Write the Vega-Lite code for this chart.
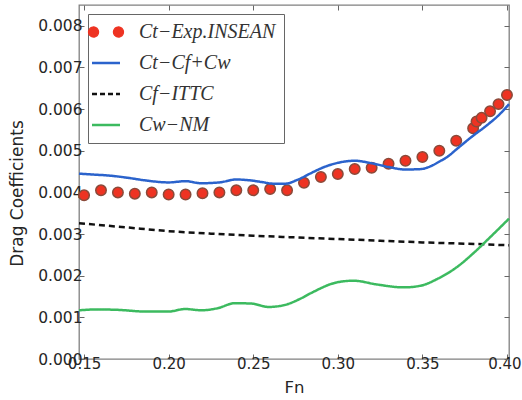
{
  "$schema": "https://vega.github.io/schema/vega-lite/v6.json",
  "width": 430,
  "height": 354,
  "autosize": {"type": "none"},
  "padding": {"left": 79, "top": 5, "right": 13, "bottom": 41},
  "background": "white",
  "config": {
    "view": {"stroke": "#808080", "strokeWidth": 1.3},
    "axis": {
      "grid": false,
      "domain": false,
      "tickSize": -5,
      "tickColor": "#666666",
      "tickWidth": 1,
      "labelFont": "DejaVu Sans",
      "labelFontSize": 15,
      "labelColor": "#262626",
      "titleFont": "DejaVu Sans",
      "titleFontSize": 16.5,
      "titleFontWeight": "normal",
      "titleColor": "#262626"
    },
    "legend": {
      "orient": "top-left",
      "offset": 9,
      "padding": 8,
      "strokeColor": "#666666",
      "fillColor": "white",
      "cornerRadius": 0,
      "labelFont": "Liberation Serif",
      "labelFontStyle": "italic",
      "labelFontSize": 20,
      "labelColor": "#333333",
      "labelOffset": 23,
      "symbolSize": 784,
      "rowPadding": 11,
      "title": null
    }
  },
  "data": {
    "values": [
      {"series": "Exp", "Fn": 0.150, "C": 0.00393},
      {"series": "Exp", "Fn": 0.160, "C": 0.00405},
      {"series": "Exp", "Fn": 0.170, "C": 0.00400},
      {"series": "Exp", "Fn": 0.180, "C": 0.00397},
      {"series": "Exp", "Fn": 0.190, "C": 0.00400},
      {"series": "Exp", "Fn": 0.200, "C": 0.00395},
      {"series": "Exp", "Fn": 0.210, "C": 0.00395},
      {"series": "Exp", "Fn": 0.220, "C": 0.00398},
      {"series": "Exp", "Fn": 0.230, "C": 0.00400},
      {"series": "Exp", "Fn": 0.240, "C": 0.00405},
      {"series": "Exp", "Fn": 0.250, "C": 0.00405},
      {"series": "Exp", "Fn": 0.260, "C": 0.00408},
      {"series": "Exp", "Fn": 0.270, "C": 0.00405},
      {"series": "Exp", "Fn": 0.280, "C": 0.00423},
      {"series": "Exp", "Fn": 0.290, "C": 0.00437},
      {"series": "Exp", "Fn": 0.300, "C": 0.00444},
      {"series": "Exp", "Fn": 0.310, "C": 0.00456},
      {"series": "Exp", "Fn": 0.320, "C": 0.00459},
      {"series": "Exp", "Fn": 0.330, "C": 0.00469},
      {"series": "Exp", "Fn": 0.340, "C": 0.00476},
      {"series": "Exp", "Fn": 0.350, "C": 0.00485},
      {"series": "Exp", "Fn": 0.360, "C": 0.00500},
      {"series": "Exp", "Fn": 0.370, "C": 0.00524},
      {"series": "Exp", "Fn": 0.380, "C": 0.00554},
      {"series": "Exp", "Fn": 0.382, "C": 0.00570},
      {"series": "Exp", "Fn": 0.385, "C": 0.00579},
      {"series": "Exp", "Fn": 0.390, "C": 0.00595},
      {"series": "Exp", "Fn": 0.395, "C": 0.00612},
      {"series": "Exp", "Fn": 0.400, "C": 0.00634},

      {"series": "Ct", "Fn": 0.147, "C": 0.00445},
      {"series": "Ct", "Fn": 0.155, "C": 0.00443},
      {"series": "Ct", "Fn": 0.166, "C": 0.00440},
      {"series": "Ct", "Fn": 0.176, "C": 0.00435},
      {"series": "Ct", "Fn": 0.186, "C": 0.00429},
      {"series": "Ct", "Fn": 0.200, "C": 0.00424},
      {"series": "Ct", "Fn": 0.210, "C": 0.00427},
      {"series": "Ct", "Fn": 0.219, "C": 0.00422},
      {"series": "Ct", "Fn": 0.230, "C": 0.00424},
      {"series": "Ct", "Fn": 0.240, "C": 0.00431},
      {"series": "Ct", "Fn": 0.248, "C": 0.00429},
      {"series": "Ct", "Fn": 0.255, "C": 0.00425},
      {"series": "Ct", "Fn": 0.262, "C": 0.00421},
      {"series": "Ct", "Fn": 0.269, "C": 0.00421},
      {"series": "Ct", "Fn": 0.276, "C": 0.00430},
      {"series": "Ct", "Fn": 0.284, "C": 0.00446},
      {"series": "Ct", "Fn": 0.292, "C": 0.00461},
      {"series": "Ct", "Fn": 0.300, "C": 0.00471},
      {"series": "Ct", "Fn": 0.310, "C": 0.00476},
      {"series": "Ct", "Fn": 0.320, "C": 0.00470},
      {"series": "Ct", "Fn": 0.330, "C": 0.00461},
      {"series": "Ct", "Fn": 0.340, "C": 0.00455},
      {"series": "Ct", "Fn": 0.349, "C": 0.00456},
      {"series": "Ct", "Fn": 0.355, "C": 0.00463},
      {"series": "Ct", "Fn": 0.360, "C": 0.00474},
      {"series": "Ct", "Fn": 0.365, "C": 0.00486},
      {"series": "Ct", "Fn": 0.370, "C": 0.00503},
      {"series": "Ct", "Fn": 0.379, "C": 0.00533},
      {"series": "Ct", "Fn": 0.389, "C": 0.00564},
      {"series": "Ct", "Fn": 0.395, "C": 0.00585},
      {"series": "Ct", "Fn": 0.4012, "C": 0.00612},

      {"series": "Cf", "Fn": 0.147, "C": 0.00326},
      {"series": "Cf", "Fn": 0.175, "C": 0.00316},
      {"series": "Cf", "Fn": 0.200, "C": 0.00307},
      {"series": "Cf", "Fn": 0.225, "C": 0.00301},
      {"series": "Cf", "Fn": 0.250, "C": 0.00296},
      {"series": "Cf", "Fn": 0.275, "C": 0.00292},
      {"series": "Cf", "Fn": 0.300, "C": 0.00288},
      {"series": "Cf", "Fn": 0.325, "C": 0.00284},
      {"series": "Cf", "Fn": 0.350, "C": 0.00280},
      {"series": "Cf", "Fn": 0.375, "C": 0.00277},
      {"series": "Cf", "Fn": 0.4012, "C": 0.00273},

      {"series": "Cw", "Fn": 0.147, "C": 0.00117},
      {"series": "Cw", "Fn": 0.158, "C": 0.00119},
      {"series": "Cw", "Fn": 0.170, "C": 0.00118},
      {"series": "Cw", "Fn": 0.186, "C": 0.00114},
      {"series": "Cw", "Fn": 0.200, "C": 0.00114},
      {"series": "Cw", "Fn": 0.2096, "C": 0.00120},
      {"series": "Cw", "Fn": 0.2194, "C": 0.00117},
      {"series": "Cw", "Fn": 0.229, "C": 0.00122},
      {"series": "Cw", "Fn": 0.239, "C": 0.00134},
      {"series": "Cw", "Fn": 0.249, "C": 0.00133},
      {"series": "Cw", "Fn": 0.259, "C": 0.00125},
      {"series": "Cw", "Fn": 0.268, "C": 0.00129},
      {"series": "Cw", "Fn": 0.277, "C": 0.00143},
      {"series": "Cw", "Fn": 0.284, "C": 0.00158},
      {"series": "Cw", "Fn": 0.2995, "C": 0.00184},
      {"series": "Cw", "Fn": 0.3094, "C": 0.00188},
      {"series": "Cw", "Fn": 0.323, "C": 0.00179},
      {"series": "Cw", "Fn": 0.339, "C": 0.00172},
      {"series": "Cw", "Fn": 0.349, "C": 0.00176},
      {"series": "Cw", "Fn": 0.3587, "C": 0.00192},
      {"series": "Cw", "Fn": 0.3705, "C": 0.00221},
      {"series": "Cw", "Fn": 0.3804, "C": 0.00255},
      {"series": "Cw", "Fn": 0.3902, "C": 0.00293},
      {"series": "Cw", "Fn": 0.4012, "C": 0.00337}
    ]
  },
  "layer": [
    {
      "transform": [{"filter": "datum.series === 'Exp'"}],
      "mark": {"type": "point", "filled": true, "size": 110, "opacity": 1, "stroke": "#8a4a3a", "strokeWidth": 1.5},
      "encoding": {
        "x": {
          "field": "Fn", "type": "quantitative",
          "scale": {"domain": [0.147, 0.4012], "nice": false, "zero": false},
          "axis": {"orient": "bottom", "values": [0.15, 0.2, 0.25, 0.3, 0.35, 0.4], "format": ".2f", "title": "Fn", "labelPadding": 2, "titlePadding": 8,
            "labelOffset": {"condition": {"test": "datum.value >= 0.399", "value": -2.5}, "value": 0}}
        },
        "y": {
          "field": "C", "type": "quantitative",
          "scale": {"domain": [0, 0.0085], "nice": false},
          "axis": {"orient": "left", "values": [0, 0.001, 0.002, 0.003, 0.004, 0.005, 0.006, 0.007, 0.008], "format": ".3f", "title": "Drag  Coefficients", "labelPadding": 2, "labelFontSize": 15.5, "titlePadding": 11, "titleFontSize": 17, "titleY": 188}
        },
        "color": {
          "field": "series", "type": "nominal",
          "scale": {"domain": ["Exp", "Ct", "Cf", "Cw"], "range": ["#ee3322", "#2b63cc", "#111111", "#3cba5f"]},
          "legend": {
            "strokeColor": "#666666",
            "fillColor": "white",
            "labelExpr": "datum.value === 'Exp' ? 'Ct−Exp.INSEAN' : datum.value === 'Ct' ? 'Ct−Cf+Cw' : datum.value === 'Cf' ? 'Cf−ITTC' : 'Cw−NM'",
            "encoding": {
              "legend": {
                "stroke": {"value": "#666666"},
                "strokeWidth": {"value": 1},
                "fill": {"value": "white"}
              },
              "symbols": {
                "shape": {"value": {"expr": "datum.value === 'Exp' ? 'M -1.25 0 a 0.36 0.36 0 1 0 0.72 0 a 0.36 0.36 0 1 0 -0.72 0 M 0.53 0 a 0.36 0.36 0 1 0 0.72 0 a 0.36 0.36 0 1 0 -0.72 0' : 'stroke'"}},
                "fill": {"value": {"expr": "datum.value === 'Exp' ? '#ee3322' : 'transparent'"}},
                "stroke": {"value": {"expr": "datum.value === 'Exp' ? '#8a4a3a' : datum.value === 'Ct' ? '#2b63cc' : datum.value === 'Cf' ? '#111111' : '#3cba5f'"}},
                "strokeDash": {"value": {"expr": "datum.value === 'Cf' ? [5, 3] : [1, 0]"}},
                "strokeWidth": {"value": {"expr": "datum.value === 'Exp' ? 1.2 : 2.5"}},
                "size": {"value": 784},
                "opacity": {"value": 1}
              }
            }
          }
        }
      }
    },
    {
      "transform": [{"filter": "datum.series !== 'Exp'"}],
      "mark": {"type": "line", "interpolate": "monotone", "strokeWidth": 2.5},
      "encoding": {
        "x": {"field": "Fn", "type": "quantitative", "axis": null},
        "y": {"field": "C", "type": "quantitative", "axis": null},
        "color": {"field": "series", "type": "nominal", "legend": null},
        "strokeDash": {
          "field": "series", "type": "nominal",
          "scale": {"domain": ["Ct", "Cf", "Cw"], "range": [[1, 0], [6, 4], [1, 0]]},
          "legend": null
        }
      }
    },
    {
      "transform": [{"filter": "datum.series === 'Exp'"}],
      "mark": {"type": "point", "opacity": 0},
      "encoding": {
        "x": {"field": "Fn", "type": "quantitative", "axis": {"orient": "top", "values": [0.15, 0.2, 0.25, 0.3, 0.35, 0.4], "labels": false, "title": null}},
        "y": {"field": "C", "type": "quantitative", "axis": {"orient": "right", "values": [0, 0.001, 0.002, 0.003, 0.004, 0.005, 0.006, 0.007, 0.008], "labels": false, "title": null}}
      }
    }
  ],
  "resolve": {"axis": {"x": "independent", "y": "independent"}}
}
